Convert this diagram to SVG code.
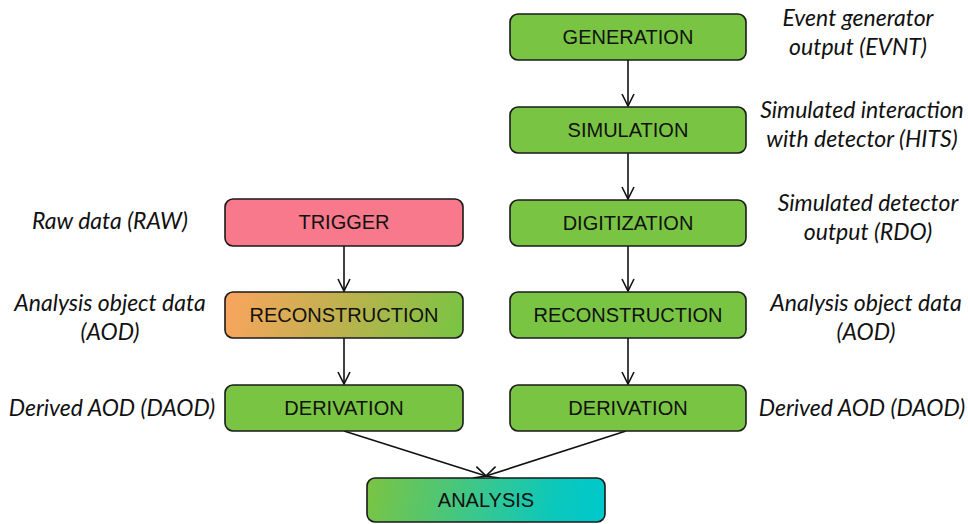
<svg xmlns="http://www.w3.org/2000/svg" width="968" height="524" viewBox="0 0 968 524">
<style>
.box{stroke:#1a1a1a;stroke-width:1.6}
.green{fill:#7AC443}
.t{font-family:"Liberation Sans",Arial,sans-serif;font-size:20px;fill:#111;text-anchor:middle;dominant-baseline:central}
.lab{font-family:Lato,"Open Sans",sans-serif;font-style:italic;font-size:23px;fill:#111;text-anchor:middle}
.c{stroke:#111;stroke-width:1.6;fill:none;marker-end:url(#arr)}
</style>
<defs>
<marker id="arr" viewBox="0 0 14 14" refX="13" refY="7" markerWidth="14" markerHeight="14" markerUnits="userSpaceOnUse" orient="auto">
<path d="M1,1 L13,7 L1,13" fill="none" stroke="#111" stroke-width="1.6"/>
</marker>
<linearGradient id="gReco" gradientUnits="userSpaceOnUse" x1="235" y1="285" x2="455" y2="345">
<stop offset="0" stop-color="#F8A55D"/>
<stop offset="0.5" stop-color="#BBB24E"/>
<stop offset="1" stop-color="#7AC443"/>
</linearGradient>
<linearGradient id="gAna" gradientUnits="userSpaceOnUse" x1="370" y1="478" x2="600" y2="522">
<stop offset="0" stop-color="#7AC443"/>
<stop offset="0.5" stop-color="#36C792"/>
<stop offset="0.8" stop-color="#0AC8BC"/>
<stop offset="1" stop-color="#00C8CC"/>
</linearGradient>
</defs>
<g id="connectors">
<line class="c" x1="628" y1="60" x2="628" y2="106"/>
<line class="c" x1="628" y1="153" x2="628" y2="199"/>
<line class="c" x1="628" y1="246" x2="628" y2="291"/>
<line class="c" x1="628" y1="338" x2="628" y2="384"/>
<line class="c" x1="344" y1="246" x2="344" y2="291"/>
<line class="c" x1="344" y1="338" x2="344" y2="384"/>
<line class="c" x1="344" y1="431" x2="486" y2="476"/>
<line class="c" x1="626" y1="431" x2="486" y2="476"/>
</g>
<g id="generation"><rect class="box green" x="510" y="14" width="236" height="46" rx="8"/><text class="t" x="628" y="37">GENERATION</text></g>
<g id="simulation"><rect class="box green" x="510" y="107" width="236" height="46" rx="8"/><text class="t" x="628" y="130">SIMULATION</text></g>
<g id="digitization"><rect class="box green" x="510" y="200" width="236" height="46" rx="8"/><text class="t" x="628" y="223">DIGITIZATION</text></g>
<g id="reconstruction-sim"><rect class="box green" x="510" y="292" width="236" height="46" rx="8"/><text class="t" x="628" y="315">RECONSTRUCTION</text></g>
<g id="derivation-sim"><rect class="box green" x="510" y="385" width="236" height="46" rx="8"/><text class="t" x="628" y="408">DERIVATION</text></g>
<g id="trigger"><rect class="box" fill="#F7798B" x="225" y="199" width="238" height="47" rx="8"/><text class="t" x="344" y="222">TRIGGER</text></g>
<g id="reconstruction-data"><rect class="box" fill="url(#gReco)" x="225" y="292" width="238" height="46" rx="8"/><text class="t" x="344" y="315">RECONSTRUCTION</text></g>
<g id="derivation-data"><rect class="box green" x="225" y="385" width="238" height="46" rx="8"/><text class="t" x="344" y="408">DERIVATION</text></g>
<g id="analysis"><rect class="box" fill="url(#gAna)" x="367" y="478" width="238" height="44" rx="8"/><text class="t" x="486" y="500">ANALYSIS</text></g>
<g id="labels">
<text class="lab" x="858" y="26">Event generator</text>
<text class="lab" x="858" y="55">output (EVNT)</text>
<text class="lab" x="862" y="118">Simulated interaction</text>
<text class="lab" x="862" y="147">with detector (HITS)</text>
<text class="lab" x="868" y="211">Simulated detector</text>
<text class="lab" x="868" y="240">output (RDO)</text>
<text class="lab" x="866" y="311">Analysis object data</text>
<text class="lab" x="866" y="340">(AOD)</text>
<text class="lab" x="862" y="416">Derived AOD (DAOD)</text>
<text class="lab" x="110" y="229">Raw data (RAW)</text>
<text class="lab" x="110" y="311">Analysis object data</text>
<text class="lab" x="110" y="340">(AOD)</text>
<text class="lab" x="112" y="416">Derived AOD (DAOD)</text>
</g>
</svg>
